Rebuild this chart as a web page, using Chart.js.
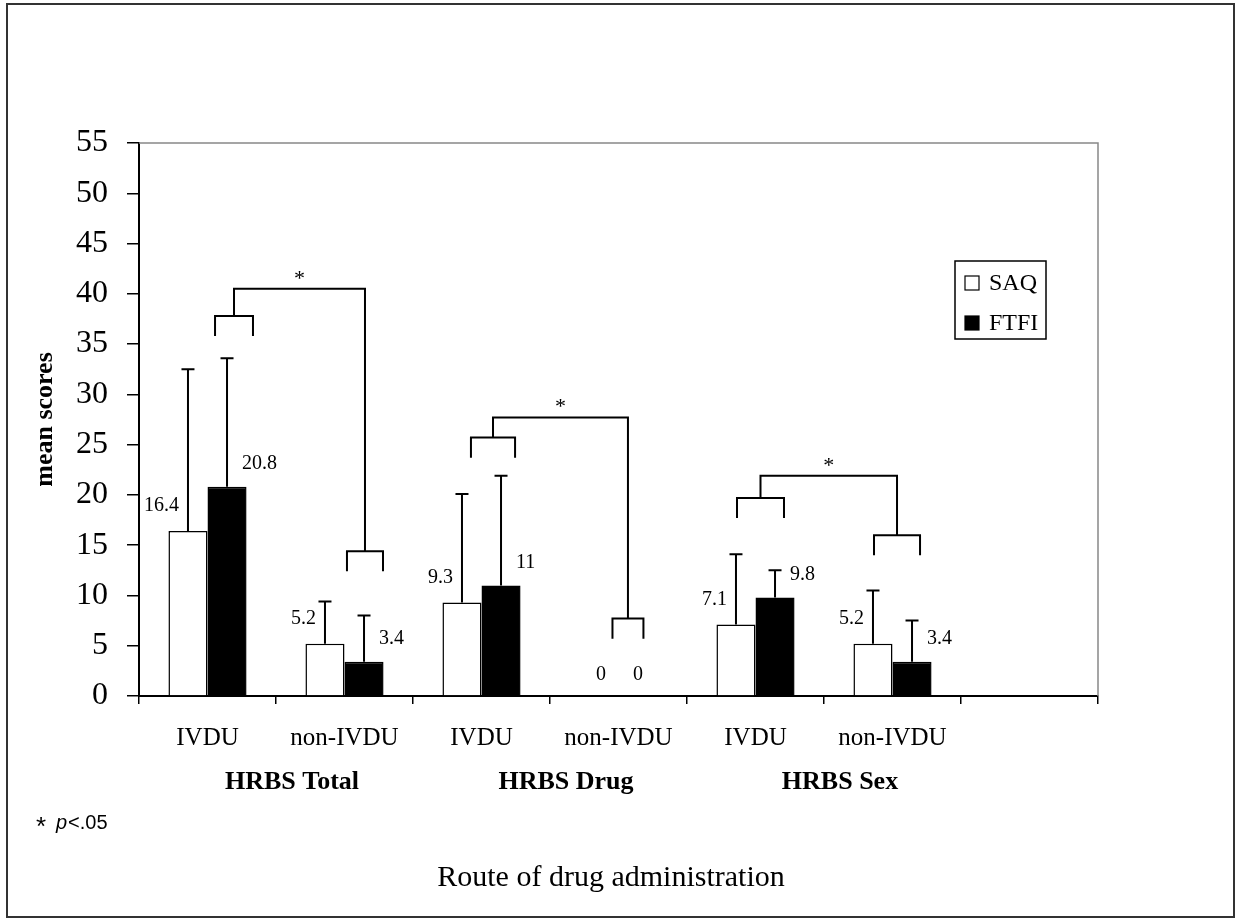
<!DOCTYPE html>
<html>
<head>
<meta charset="utf-8">
<script src="https://cdn.jsdelivr.net/npm/chart.js@4.4.1/dist/chart.umd.min.js"></script>
<style>
  html, body { margin: 0; padding: 0; background: #fff; }
</style>
</head>
<body>
<canvas id="bar-chart" width="1236" height="920"></canvas>
<script>
// values
const categories = ['IVDU', 'non-IVDU', 'IVDU', 'non-IVDU', 'IVDU', 'non-IVDU', ''];
const groupNames = ['HRBS Total', 'HRBS Drug', 'HRBS Sex'];
const seriesNames = ['SAQ', 'FTFI'];
const saqMeans = [16.4, 5.2, 9.3, 0, 7.1, 5.2, null];
const ftfiMeans = [20.8, 3.4, 11, 0, 9.8, 3.4, null];
const saqSD = [16.1, 4.2, 10.8, 0, 7.0, 5.3, null];
const ftfiSD = [12.8, 4.6, 10.9, 0, 2.7, 4.1, null];
const yMin = 0, yMax = 55, yStep = 5;

// significance brackets (IVDU vs non-IVDU inside each scale)
const bracketCats = [[0, 1], [2, 3], [4, 5]];
const bracketTop = [40.5, 27.7, 21.9];
const bracketIvdu = [37.8, 25.7, 19.7];
const bracketNon = [14.4, 7.7, 16.0];
// leg offsets from category centre, as share of the category width
const legsIvdu = [[0.055, 0.332], [-0.077, 0.245], [-0.135, 0.208]];
const legsNon = [[0.018, 0.281], [-0.044, 0.182], [-0.135, 0.201]];

const serif = 'Liberation Serif';

const overlay = {
  id: 'overlay',
  afterDatasetsDraw(chart) {
    const ctx = chart.ctx;
    const xs = chart.scales.x, ys = chart.scales.y;
    const area = chart.chartArea;
    const sds = [saqSD, ftfiSD];
    ctx.save();
    ctx.strokeStyle = '#000';
    ctx.fillStyle = '#000';
    ctx.lineWidth = 2;

    // error bars, upper half only
    chart.data.datasets.forEach((ds, d) => {
      chart.getDatasetMeta(d).data.forEach((bar, i) => {
        const v = ds.data[i], sd = sds[d][i];
        if (v == null || !sd) return;
        const top = ys.getPixelForValue(v + sd);
        ctx.beginPath();
        ctx.moveTo(bar.x, bar.y);
        ctx.lineTo(bar.x, top);
        ctx.moveTo(bar.x - 6.5, top);
        ctx.lineTo(bar.x + 6.5, top);
        ctx.stroke();
      });
    });

    // value labels
    ctx.font = '20px "' + serif + '"';
    ctx.textBaseline = 'middle';
    chart.data.datasets.forEach((ds, d) => {
      chart.getDatasetMeta(d).data.forEach((bar, i) => {
        const v = ds.data[i];
        if (v == null) return;
        if (v === 0) {
          ctx.textAlign = 'center';
          ctx.fillText('0', bar.x + (d === 0 ? 2 : 0), bar.y - 21);
        } else if (d === 0) {
          ctx.textAlign = 'right';
          ctx.fillText(String(v), bar.x - 9, bar.y - 25);
        } else {
          ctx.textAlign = 'left';
          ctx.fillText(String(v), bar.x + 15, bar.y - 23);
        }
      });
    });

    // brackets
    const cw = xs.getPixelForValue(1) - xs.getPixelForValue(0);
    const drop = ys.getPixelForValue(0) - ys.getPixelForValue(2);
    const sub = (cat, legs, level) => {
      const c = xs.getPixelForValue(cat);
      const a = c + legs[0] * cw, b = c + legs[1] * cw;
      const y = ys.getPixelForValue(level);
      ctx.beginPath();
      ctx.moveTo(a, y + drop);
      ctx.lineTo(a, y);
      ctx.lineTo(b, y);
      ctx.lineTo(b, y + drop);
      ctx.stroke();
      return { x: (a + b) / 2, y };
    };
    ctx.lineWidth = 2;
    bracketCats.forEach((pair, k) => {
      const l = sub(pair[0], legsIvdu[k], bracketIvdu[k]);
      const r = sub(pair[1], legsNon[k], bracketNon[k]);
      const t = ys.getPixelForValue(bracketTop[k]);
      ctx.beginPath();
      ctx.moveTo(l.x, l.y);
      ctx.lineTo(l.x, t);
      ctx.lineTo(r.x, t);
      ctx.lineTo(r.x, r.y);
      ctx.stroke();
      ctx.font = '22px "' + serif + '"';
      ctx.textAlign = 'center';
      ctx.textBaseline = 'alphabetic';
      ctx.fillText('*', (l.x + r.x) / 2, t - 4);
    });

    // legend box inside the plot
    const lx = area.right - 143, ly = area.top + 118;
    ctx.lineWidth = 1.5;
    ctx.strokeRect(lx, ly, 91, 78);
    ctx.font = '24px "' + serif + '"';
    ctx.textAlign = 'left';
    ctx.textBaseline = 'middle';
    chart.data.datasets.forEach((ds, d) => {
      const cy = ly + 22 + d * 40;
      ctx.fillStyle = ds.backgroundColor;
      ctx.fillRect(lx + 10, cy - 7, 14, 14);
      ctx.lineWidth = 1.2;
      ctx.strokeRect(lx + 10, cy - 7, 14, 14);
      ctx.fillStyle = '#000';
      ctx.fillText(ds.label, lx + 34, cy + 1);
    });
    ctx.restore();
  },
  afterDraw(chart) {
    const ctx = chart.ctx;
    const xs = chart.scales.x;
    const area = chart.chartArea;
    ctx.save();
    // top and right edge of the plot area
    ctx.strokeStyle = '#888';
    ctx.lineWidth = 1.5;
    ctx.beginPath();
    ctx.moveTo(area.left, area.top);
    ctx.lineTo(area.right, area.top);
    ctx.lineTo(area.right, area.bottom);
    ctx.stroke();

    // outer frame
    ctx.strokeStyle = '#333';
    ctx.lineWidth = 2;
    ctx.strokeRect(7, 4, 1227, 913);

    ctx.fillStyle = '#000';
    ctx.textAlign = 'center';
    ctx.textBaseline = 'middle';
    ctx.font = 'bold 26px "' + serif + '"';
    bracketCats.forEach((pair, k) => {
      const cx = (xs.getPixelForValue(pair[0]) + xs.getPixelForValue(pair[1])) / 2 + 16;
      ctx.fillText(groupNames[k], cx, 782);
    });

    ctx.font = '30px "' + serif + '"';
    ctx.fillText('Route of drug administration', 611, 878);

    ctx.textAlign = 'left';
    ctx.font = '26px "Liberation Sans"';
    ctx.fillText('*', 36, 828);
    ctx.font = 'italic 20px "Liberation Sans"';
    ctx.fillText('p', 56, 823);
    const pw = ctx.measureText('p').width;
    ctx.font = '20px "Liberation Sans"';
    ctx.fillText('<.05', 56 + pw + 1, 823);
    ctx.restore();
  }
};

const ctx = document.getElementById('bar-chart').getContext('2d');
const barChart = new Chart(ctx, {
  type: 'bar',
  data: {
    labels: categories,
    datasets: [
      { label: seriesNames[0], data: saqMeans, backgroundColor: '#ffffff', borderColor: '#000', borderWidth: 1.5 },
      { label: seriesNames[1], data: ftfiMeans, backgroundColor: '#000000', borderColor: '#000', borderWidth: 1.5 }
    ]
  },
  options: {
    responsive: false,
    animation: false,
    layout: { padding: { left: 0, top: 143, right: 138, bottom: 174 } },
    datasets: { bar: { barPercentage: 1, categoryPercentage: 0.57 } },
    plugins: { legend: { display: false }, tooltip: { enabled: false } },
    scales: {
      x: {
        offset: true,
        grid: { offset: true, drawOnChartArea: false, drawTicks: true, tickLength: 8, color: '#000', lineWidth: 1.5 },
        border: { color: '#000', width: 2 },
        ticks: { color: '#000', font: { family: serif, size: 25 }, padding: 19, autoSkip: false, maxRotation: 0 },
        afterFit: s => { s.height = 50; }
      },
      y: {
        min: yMin,
        max: yMax,
        ticks: { stepSize: yStep, color: '#000', font: { family: serif, size: 32 }, padding: 19 },
        grid: { drawOnChartArea: false, tickLength: 12, color: '#000', lineWidth: 1.5 },
        border: { color: '#000', width: 2 },
        title: { display: true, text: 'mean scores', color: '#000', font: { family: serif, size: 26, weight: 'bold' }, padding: { top: 30, bottom: 0 } },
        afterFit: s => { s.width = 139; }
      }
    }
  },
  plugins: [overlay]
});
</script>
</body>
</html>
